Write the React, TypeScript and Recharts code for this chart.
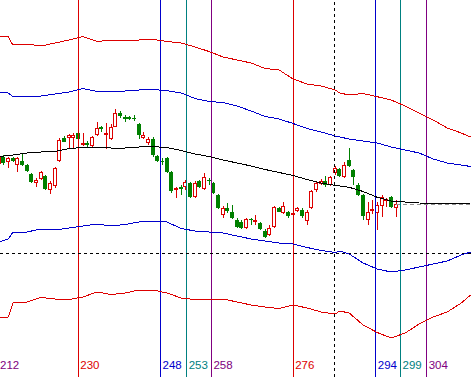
import React from "react";
import {
  ComposedChart,
  Bar,
  Line,
  XAxis,
  YAxis,
  ReferenceLine,
} from "recharts";

// -------------------------------
// Candles (bar number 213 .. 298)
// -------------------------------
const firstBar = 213;

const opens = [
  23.6, 24.3, 23.8, 24.2, 23.5, 23.9, 23.5, 22.6, 21.7, 22.1,
  22.4, 21.0, 21.4, 23.9, 26.2, 26.2, 26.2, 26.7, 25.6, 25.7,
  25.4, 26.5, 27.3, 26.5, 26.1, 27.3, 28.7, 28.3, 28.3, 28.25,
  27.6, 26.2, 25.7, 26.1, 24.4, 23.9, 24.2, 22.8, 21.1, 21.3,
  21.3, 21.7, 20.3, 21.9, 21.1, 22.0, 21.7, 20.5, 18.5, 19.2,
  18.8, 18.0, 17.8, 17.2, 18.1, 17.9, 17.7, 16.9, 16.5, 17.3,
  19.2, 18.7, 18.8, 18.6, 18.9, 19.0, 17.9, 19.2, 21.0, 21.6,
  21.9, 21.5, 22.7, 23.1, 22.3, 24.0, 23.0, 21.5, 20.5, 18.0,
  18.9, 18.7, 19.4, 20.0, 20.3, 19.2,
];

const closes = [
  24.3, 23.7, 24.2, 23.9, 24.2, 23.5, 22.9, 21.8, 22.0, 22.8,
  21.1, 21.7, 23.2, 26.0, 25.8, 26.5, 26.5, 26.1, 25.7, 25.5,
  26.3, 27.2, 27.1, 26.7, 27.3, 28.7, 28.4, 28.1, 28.15, 28.1,
  26.5, 26.5, 26.1, 24.5, 23.9, 23.8, 22.8, 20.9, 21.2, 21.1,
  21.8, 20.3, 21.7, 21.3, 22.3, 21.9, 20.7, 19.2, 19.2, 18.9,
  18.2, 17.3, 17.2, 18.1, 18.0, 18.0, 17.1, 16.3, 17.2, 19.3,
  18.8, 19.4, 18.4, 18.7, 19.2, 18.4, 18.8, 20.9, 21.7, 21.9,
  21.5, 22.3, 23.2, 22.4, 23.5, 23.4, 22.3, 20.5, 18.4, 18.8,
  19.1, 19.5, 20.3, 20.1, 19.3, 19.6,
];

const highs = [
  24.5, 24.5, 24.3, 24.3, 24.3, 24.7, 23.6, 22.7, 22.2, 22.9,
  22.5, 21.9, 23.3, 26.2, 26.4, 26.6, 26.7, 26.7, 26.7, 25.9,
  26.4, 27.8, 27.4, 27.7, 27.6, 29.1, 28.9, 28.5, 28.4, 28.5,
  27.7, 26.8, 26.3, 26.3, 24.5, 24.2, 24.3, 22.9, 21.3, 21.5,
  22.0, 21.8, 21.9, 22.0, 22.7, 22.2, 21.8, 20.6, 19.4, 19.7,
  19.5, 18.2, 18.0, 18.2, 18.2, 18.5, 17.8, 17.1, 17.5, 19.4,
  19.3, 19.8, 18.9, 18.9, 19.3, 19.2, 19.0, 21.0, 21.9, 22.1,
  22.4, 22.4, 23.4, 23.2, 23.8, 25.2, 23.1, 21.7, 20.6, 19.8,
  20.0, 19.8, 20.5, 20.2, 20.4, 20.0,
];

const lows = [
  22.8, 23.5, 23.2, 23.8, 22.8, 23.4, 22.8, 21.7, 21.3, 22.0,
  21.0, 20.6, 21.2, 23.8, 25.8, 25.2, 25.2, 26.1, 25.4, 25.2,
  25.3, 26.4, 26.8, 25.1, 26.0, 27.3, 28.2, 27.8, 28.0, 27.9,
  26.1, 26.1, 25.5, 24.3, 23.8, 23.5, 22.7, 20.7, 20.2, 20.5,
  21.0, 20.2, 20.2, 21.2, 21.0, 21.5, 20.6, 19.1, 18.2, 18.7,
  18.1, 17.2, 17.1, 17.1, 17.5, 17.5, 17.0, 16.2, 16.4, 17.2,
  18.8, 18.6, 18.2, 18.4, 18.8, 18.2, 17.5, 19.1, 20.8, 21.5,
  21.3, 21.4, 22.5, 22.3, 22.2, 23.3, 21.5, 20.4, 18.0, 17.5,
  18.6, 17.0, 18.3, 19.3, 19.2, 18.3,
];

// -------------------------------
// Envelope bands (sampled bars)
// -------------------------------
const bandBars = [
  213, 215, 216, 219, 222, 225, 228, 231, 234, 237, 240, 243, 246, 249, 252,
  255, 258, 261, 264, 267, 270, 273, 276, 279, 282, 285, 286, 288, 291, 294,
  297, 300, 303, 306, 309, 312, 314,
];

const redUpper = [
  36.33, 36.3, 35.5, 35.6, 35.4, 35.7, 36.0, 36.35, 35.85, 36.0, 35.95, 36.0,
  36.05, 35.85, 35.7, 35.3, 34.85, 34.3, 34.0, 33.7, 33.15, 33.0, 32.1, 31.6,
  31.4, 31.0, 30.7, 30.5, 30.65, 30.33, 30.0, 29.4, 28.7, 28.0, 27.2, 26.7,
  26.3,
];

const blueUpper = [
  30.73, 30.7, 30.33, 30.4, 30.4, 30.6, 30.8, 31.15, 30.85, 30.9, 30.9, 31.0,
  31.05, 30.93, 30.7, 30.15, 29.85, 29.75, 29.4, 28.9, 28.35, 28.1, 27.65,
  27.15, 26.8, 26.4, 26.3, 26.1, 25.9, 25.7, 25.3, 25.0, 24.7, 24.1, 23.7,
  23.5, 23.35,
];

const middle = [
  24.33, 24.45, 24.5, 24.7, 24.8, 24.85, 25.15, 25.25, 25.25, 25.2, 25.2,
  25.3, 25.35, 25.23, 24.95, 24.6, 24.35, 24.0, 23.7, 23.4, 23.05, 22.75,
  22.45, 22.05, 21.7, 21.47, 21.4, 21.27, 20.85, 20.27, 19.9, 19.8, 19.7,
  19.65, 19.6, 19.65, 19.7,
];

const blueLower = [
  15.8, 16.1, 16.8, 16.8, 17.1, 17.0, 17.2, 17.4, 17.6, 17.4, 17.55, 17.8,
  17.85, 17.8, 17.15, 16.9, 16.8, 16.7, 16.4, 16.1, 15.9, 15.7, 15.6, 15.25,
  14.95, 14.75, 14.9, 14.6, 13.7, 13.1, 12.8, 13.0, 13.3, 13.6, 13.9, 14.5,
  14.8,
];

const redLower = [
  8.2, 8.3, 9.7, 9.8, 10.25, 10.1, 10.05, 10.3, 10.8, 10.55, 10.7, 11.0, 11.0,
  10.7, 10.2, 10.05, 10.0, 10.1, 9.8, 9.5, 9.3, 9.15, 9.5, 9.2, 8.8, 8.6, 8.9,
  8.7, 7.5, 6.75, 6.2, 6.7, 7.6, 8.3, 8.8, 9.7, 10.5,
];

// -------------------------------
// Cycle lines + crosshair
// -------------------------------
const cycleAt = [212, 230, 247.6, 253.2, 258.5, 276, 293.7, 299, 304.6];
const cycleLabels = ["212", "230", "248", "253", "258", "276", "294", "299", "304"];
const cycleColors = [
  "#800080", "#dd0000", "#0000cc", "#008080", "#800080",
  "#dd0000", "#0000cc", "#008080", "#800080",
];
const crossBar = 284.8;
const crossPrice = 14.67;

const RED = "#dd0000";
const BLUE = "#0000cc";
const GREEN = "#008000";

const X_DOMAIN: [number, number] = [213.23, 314.09];
const Y_DOMAIN: [number, number] = [2.3, 40];

type Row = {
  n: number;
  open?: number;
  close?: number;
  high?: number;
  low?: number;
  range?: [number, number];
  redUpper?: number;
  blueUpper?: number;
  middle?: number;
  blueLower?: number;
  redLower?: number;
};

function buildRows(): Row[] {
  const map = new Map<number, Row>();
  const get = (n: number) => {
    if (!map.has(n)) map.set(n, { n });
    return map.get(n)!;
  };
  opens.forEach((o, i) => {
    const r = get(firstBar + i);
    r.open = o;
    r.close = closes[i];
    r.high = highs[i];
    r.low = lows[i];
    r.range = [lows[i], highs[i]];
  });
  bandBars.forEach((n, i) => {
    const r = get(n);
    r.redUpper = redUpper[i];
    r.blueUpper = blueUpper[i];
    r.middle = middle[i];
    r.blueLower = blueLower[i];
    r.redLower = redLower[i];
  });
  return Array.from(map.values()).sort((a, b) => a.n - b.n);
}

const rows = buildRows();
const lastBar = firstBar + closes.length - 1;
const lastClose = closes[closes.length - 1];

function Candle(props: any) {
  const { x, y, width, height, payload } = props;
  if (!payload || payload.open == null || !isFinite(y) || !isFinite(height)) {
    return null;
  }
  const { open, close, high, low } = payload;
  const span = high - low || 1;
  const py = (v: number) => y + ((high - v) / span) * height;
  const cx = Math.round(x + width / 2) + 0.5;
  const up = close >= open;
  const color = up ? RED : GREEN;
  const top = Math.round(py(Math.max(open, close)));
  const bot = Math.round(py(Math.min(open, close)));
  return (
    <g>
      <line x1={cx} x2={cx} y1={y} y2={y + height} stroke={color} strokeWidth={1} />
      {up ? (
        <rect
          x={cx - 2}
          y={top + 0.5}
          width={3}
          height={Math.max(bot - top - 1, 1)}
          fill="#ffffff"
          stroke={color}
          strokeWidth={1}
        />
      ) : (
        <rect
          x={cx - 2.5}
          y={top}
          width={4}
          height={Math.max(bot - top, 1)}
          fill={color}
        />
      )}
    </g>
  );
}

function CycleLabel(props: any) {
  const { viewBox, text, color } = props;
  if (!viewBox) return null;
  return (
    <text
      x={Math.max(viewBox.x + 2, 0)}
      y={viewBox.y + viewBox.height - 8}
      fill={color}
      fontSize={11.5}
      fontFamily="'Liberation Sans', Arial, sans-serif"
    >
      {text}
    </text>
  );
}

export default function App() {
  return (
    <div
      style={{
        position: "absolute",
        left: 0,
        top: 0,
        width: 471,
        height: 377,
        background: "#ffffff",
      }}
    >
      <ComposedChart
        width={471}
        height={377}
        data={rows}
        margin={{ top: 0, right: 0, bottom: 0, left: 0 }}
      >
        <XAxis
          dataKey="n"
          type="number"
          domain={X_DOMAIN}
          allowDataOverflow
          hide
        />
        <YAxis type="number" domain={Y_DOMAIN} allowDataOverflow hide />

        {cycleAt.map((pos, i) => (
          <ReferenceLine
            key={cycleLabels[i]}
            x={pos}
            stroke={cycleColors[i]}
            strokeWidth={1}
            ifOverflow="visible"
            shapeRendering="crispEdges"
            label={<CycleLabel text={cycleLabels[i]} color={cycleColors[i]} />}
          />
        ))}
        <ReferenceLine
          x={crossBar}
          stroke="#000000"
          strokeDasharray="3 3"
          shapeRendering="crispEdges"
        />
        <ReferenceLine
          y={crossPrice}
          stroke="#000000"
          strokeDasharray="3 3"
          shapeRendering="crispEdges"
        />
        <ReferenceLine
          segment={[
            { x: lastBar, y: lastClose },
            { x: X_DOMAIN[1], y: lastClose },
          ]}
          stroke="#909090"
          strokeDasharray="4 3"
          shapeRendering="crispEdges"
        />

        <Line dataKey="redUpper" stroke={RED} strokeWidth={1} dot={false} connectNulls shapeRendering="crispEdges" isAnimationActive={false} />
        <Line dataKey="blueUpper" stroke={BLUE} strokeWidth={1} dot={false} connectNulls shapeRendering="crispEdges" isAnimationActive={false} />
        <Line dataKey="middle" stroke="#000000" strokeWidth={1} dot={false} connectNulls shapeRendering="crispEdges" isAnimationActive={false} />
        <Line dataKey="blueLower" stroke={BLUE} strokeWidth={1} dot={false} connectNulls shapeRendering="crispEdges" isAnimationActive={false} />
        <Line dataKey="redLower" stroke={RED} strokeWidth={1} dot={false} connectNulls shapeRendering="crispEdges" isAnimationActive={false} />

        <Bar
          dataKey="range"
          barSize={4}
          shape={<Candle />}
          isAnimationActive={false}
        />
      </ComposedChart>
    </div>
  );
}
